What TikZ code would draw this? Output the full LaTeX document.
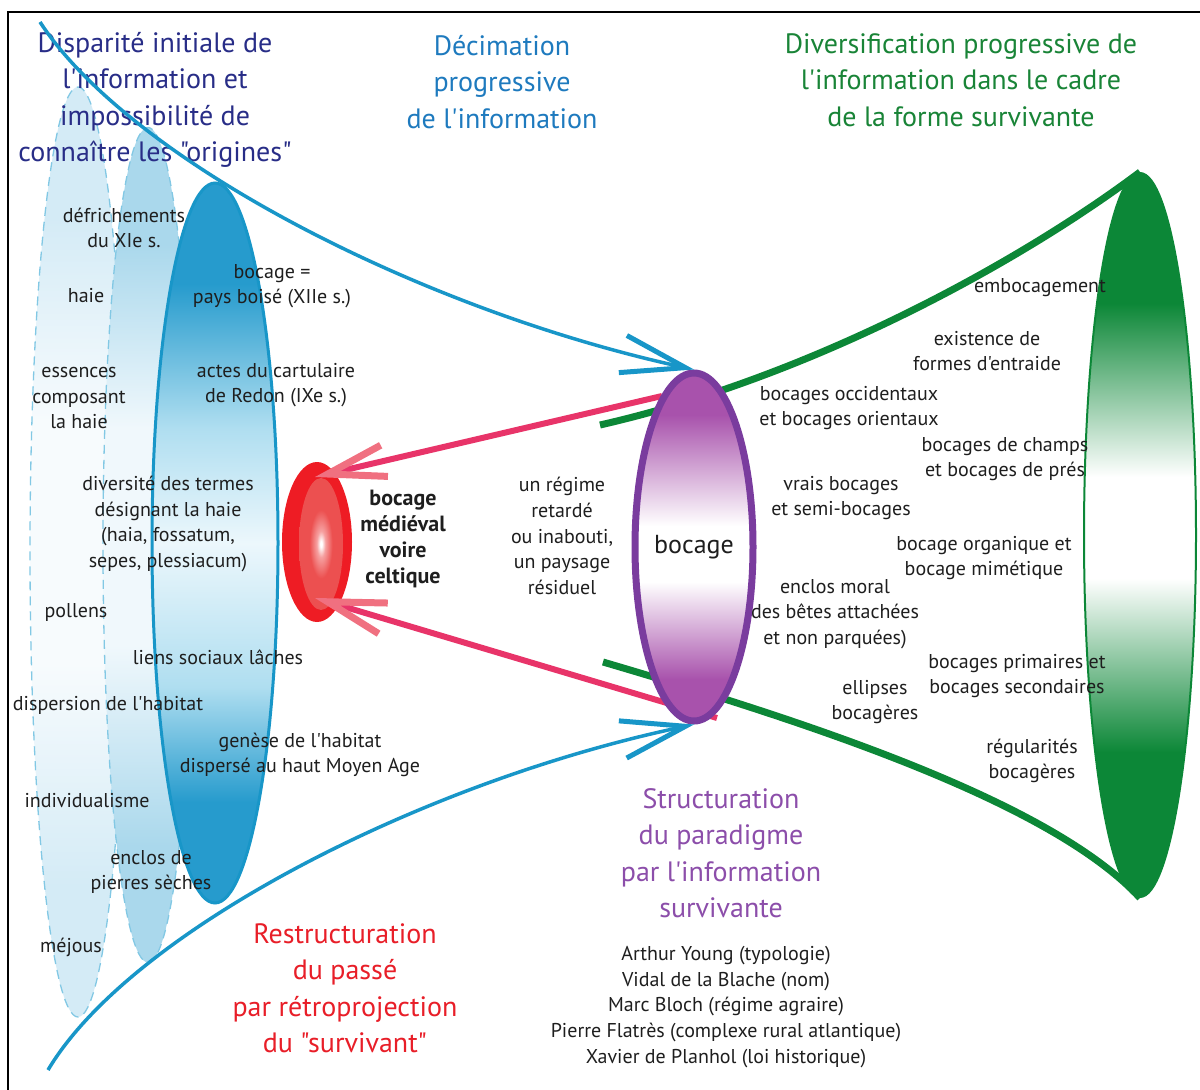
\documentclass[tikz,border=0pt]{standalone}
\usepackage{fontspec}
\setmainfont{PT Sans}[Ligatures=TeXOff]
\usetikzlibrary{shapes.geometric,arrows.meta}

\definecolor{funnelblue}{RGB}{24,150,200}
\definecolor{blueDk}{RGB}{38,155,205}
\definecolor{blueMd}{RGB}{175,222,240}
\definecolor{blueLt}{RGB}{236,247,252}
\definecolor{nearDk}{RGB}{170,216,236}
\definecolor{nearLt}{RGB}{240,248,252}
\definecolor{farDk}{RGB}{212,235,246}
\definecolor{farLt}{RGB}{247,251,253}
\definecolor{ghostline}{RGB}{130,200,228}
\definecolor{greenline}{RGB}{12,135,55}
\definecolor{purpleline}{RGB}{122,60,158}
\definecolor{purpleDk}{RGB}{168,82,172}
\definecolor{medred}{RGB}{238,28,36}
\definecolor{medsalmon}{RGB}{236,80,80}
\definecolor{medpink}{RGB}{246,160,160}
\definecolor{pinkline}{RGB}{232,52,105}
\definecolor{pinktip}{RGB}{240,112,128}
\definecolor{inkgrey}{RGB}{30,30,30}
\definecolor{ttlnavy}{RGB}{40,45,135}
\definecolor{ttlblue}{RGB}{30,122,190}
\definecolor{ttlgreen}{RGB}{25,132,55}
\definecolor{ttlred}{RGB}{232,30,40}
\definecolor{ttlpurple}{RGB}{140,78,170}

\pgfdeclareverticalshading{mainblue}{100bp}{color(0bp)=(blueDk); color(32bp)=(blueDk); color(40bp)=(blueMd); color(50bp)=(blueLt); color(58bp)=(blueMd); color(68bp)=(blueDk); color(100bp)=(blueDk)}
\pgfdeclareverticalshading{nearghost}{100bp}{color(0bp)=(nearDk); color(32bp)=(nearDk); color(44bp)=(nearLt); color(57bp)=(nearLt); color(68bp)=(nearDk); color(100bp)=(nearDk)}
\pgfdeclareverticalshading{farghost}{100bp}{color(0bp)=(farDk); color(32bp)=(farDk); color(44bp)=(farLt); color(57bp)=(farLt); color(68bp)=(farDk); color(100bp)=(farDk)}
\pgfdeclareverticalshading{greenlobe}{100bp}{color(0bp)=(greenline); color(35bp)=(greenline); color(47bp)=(white); color(54bp)=(white); color(66bp)=(greenline); color(100bp)=(greenline)}
\pgfdeclareverticalshading{purplelobe}{100bp}{color(0bp)=(purpleDk); color(31bp)=(purpleDk); color(45bp)=(white); color(53bp)=(white); color(69bp)=(purpleDk); color(100bp)=(purpleDk)}
\pgfdeclareradialshading{medcore}{\pgfpoint{0bp}{0bp}}{color(0bp)=(white); color(1bp)=(white); color(5bp)=(medpink); color(13bp)=(medsalmon); color(50bp)=(medsalmon)}

\begin{document}
\begin{tikzpicture}[x=1pt, y=-1pt,
  txt/.style={font=\BODY, align=center, text=inkgrey, inner sep=0pt},
  ttl/.style={font=\TITLE, align=center, inner sep=0pt},
  lobe/.style={ellipse, inner sep=0pt},
  ghost/.style={lobe, draw=ghostline, line width=1.3pt, dash pattern=on 9pt off 6pt, shade},
  funnel/.style={draw=funnelblue, line width=3.5pt, -{Straight Barb[length=64pt, width=38pt, line width=5pt]}},
  backarrow/.style={draw=pinkline, line width=6pt, -{Straight Barb[length=58pt, width=32pt, line width=7pt, color=pinktip]}},
  twig/.style={draw=greenline, line width=7pt}]

  \newcommand\BODY{\fontsize{20}{25.6}\selectfont}
  \newcommand\BOLD{\fontsize{22}{26}\selectfont\bfseries}
  \newcommand\TITLE{\fontsize{28}{36.5}\selectfont}
  \newcommand\BIG{\fontsize{26}{28}\selectfont}

  \useasboundingbox (0,0) rectangle (1200,1090);
  \draw[line width=2.5pt] (8,1090) -- (8,12) -- (1200,12); %% frame

  %% the three lobes of the past
  \node[ghost, shading=farghost, minimum width=96pt, minimum height=930pt] (far) at (78,552) {};
  \node[ghost, shading=nearghost, minimum width=90pt, minimum height=835pt] (near) at (148,545) {};
  \node[lobe, draw=funnelblue, line width=3pt, shade, shading=mainblue,
        minimum width=126pt, minimum height=720pt] (origin) at (215,543) {};

  \node[ttl, text=ttlnavy] (tDisp) at (155,100)
    {Disparité initiale de\\l'information et\\impossibilité de\\connaître les "origines"};

  %% medieval ring
  \node[lobe, fill=medred, minimum width=70pt, minimum height=160pt] (medring) at (317,542) {};
  \node[lobe, shade, shading=medcore, minimum width=44pt, minimum height=132pt] (medcore) at (321,544) {};

  %% surviving form
  \node[lobe, draw=greenline, line width=2pt, shade, shading=greenlobe,
        minimum width=112pt, minimum height=724pt] (survivant) at (1140,535) {};

  \coordinate (gA) at (600,425);
  \coordinate (gB) at (603,662);
  \coordinate (pA) at (662,396);
  \coordinate (pB) at (717,718);
  \coordinate (pAt) at (315,477);
  \coordinate (pBt) at (315,598);
  \coordinate (bA) at (40,22);
  \coordinate (bB) at (48,1070);

  \draw[twig] (gA) .. controls (820,375) and (1030,255) .. (survivant.north); %% upper green
  \draw[twig] (gB) .. controls (800,720) and (1050,800) .. (survivant.south); %% lower green

  \draw[backarrow] (pA) -- (pAt);
  \draw[backarrow] (pB) -- (pBt);

  \node[lobe, draw=purpleline, line width=7pt, shade, shading=purplelobe,
        minimum width=118pt, minimum height=348pt, font=\BIG, text=inkgrey] (bocage) at (694,547) {bocage};

  \draw[funnel] (bA) .. controls (130,160) and (420,310) .. (bocage.north); %% decimation
  \draw[funnel] (bB) .. controls (130,932) and (420,782) .. (bocage.south); %% restructuration

  %% titles
  \node[ttl, text=ttlblue] (tDecim) at (502,82) {Décimation\\progressive\\de l'information};
  \node[ttl, text=ttlgreen] (tDivers) at (961,80)
    {Diversification progressive de\\l'information dans le cadre\\de la forme survivante};
  \node[ttl, text=ttlred] (tRestr) at (345,988)
    {Restructuration\\du passé\\par rétroprojection\\du "survivant"};
  \node[ttl, text=ttlpurple] (tStruct) at (721,853)
    {Structuration\\du paradigme\\par l'information\\survivante};

  %% left side
  \node[txt] (defrich) at (124,228) {défrichements\\du XIe s.};
  \node[txt] (pays) at (272,286) {bocage =\\pays boisé (XIIe s.)};
  \node[txt] (haie) at (86,296) {haie};
  \node[txt] (essences) at (79,398) {essences\\composant\\la haie};
  \node[txt] (actes) at (276,385) {actes du cartulaire\\de Redon (IXe s.)};
  \node[txt] (termes) at (168,524) {diversité des termes\\désignant la haie\\(haia, fossatum,\\sepes, plessiacum)};
  \node[txt] (pollens) at (76,612) {pollens};
  \node[txt] (liens) at (218,657) {liens sociaux lâches};
  \node[txt] (dispersion) at (108,705) {dispersion de l'habitat};
  \node[txt] (genese) at (300,755) {genèse de l'habitat\\dispersé au haut Moyen Age};
  \node[txt] (indiv) at (87,801) {individualisme};
  \node[txt] (enclos) at (151,872) {enclos de\\pierres sèches};
  \node[txt] (mejous) at (71,947) {méjous};

  %% middle
  \node[txt, font=\BOLD] (medieval) at (403,539) {bocage\\médiéval\\voire\\celtique};
  \node[txt] (regime) at (562,536) {un régime\\retardé\\ou inabouti,\\un paysage\\résiduel};

  %% right side
  \node[txt] (emboc) at (1040,288) {embocagement};
  \node[txt] (entraide) at (987,351) {existence de\\formes d'entraide};
  \node[txt] (occid) at (849,408) {bocages occidentaux\\et bocages orientaux};
  \node[txt] (champs) at (1005,459) {bocages de champs\\et bocages de prés};
  \node[txt] (vrais) at (841,498) {vrais bocages\\et semi-bocages};
  \node[txt] (organique) at (984,558) {bocage organique et\\bocage mimétique};
  \node[txt] (moral) at (835,614) {enclos moral\\des bêtes attachées\\et non parquées)};
  \node[txt] (primaires) at (1017,676) {bocages primaires et\\bocages secondaires};
  \node[txt] (ellipses) at (875,702) {ellipses\\bocagères};
  \node[txt] (regul) at (1032,761) {régularités\\bocagères};

  \node[txt] (auteurs) at (726,1007) {Arthur Young (typologie)\\Vidal de la Blache (nom)\\Marc Bloch (régime agraire)\\Pierre Flatrès (complexe rural atlantique)\\Xavier de Planhol (loi historique)};

\end{tikzpicture}
\end{document}
